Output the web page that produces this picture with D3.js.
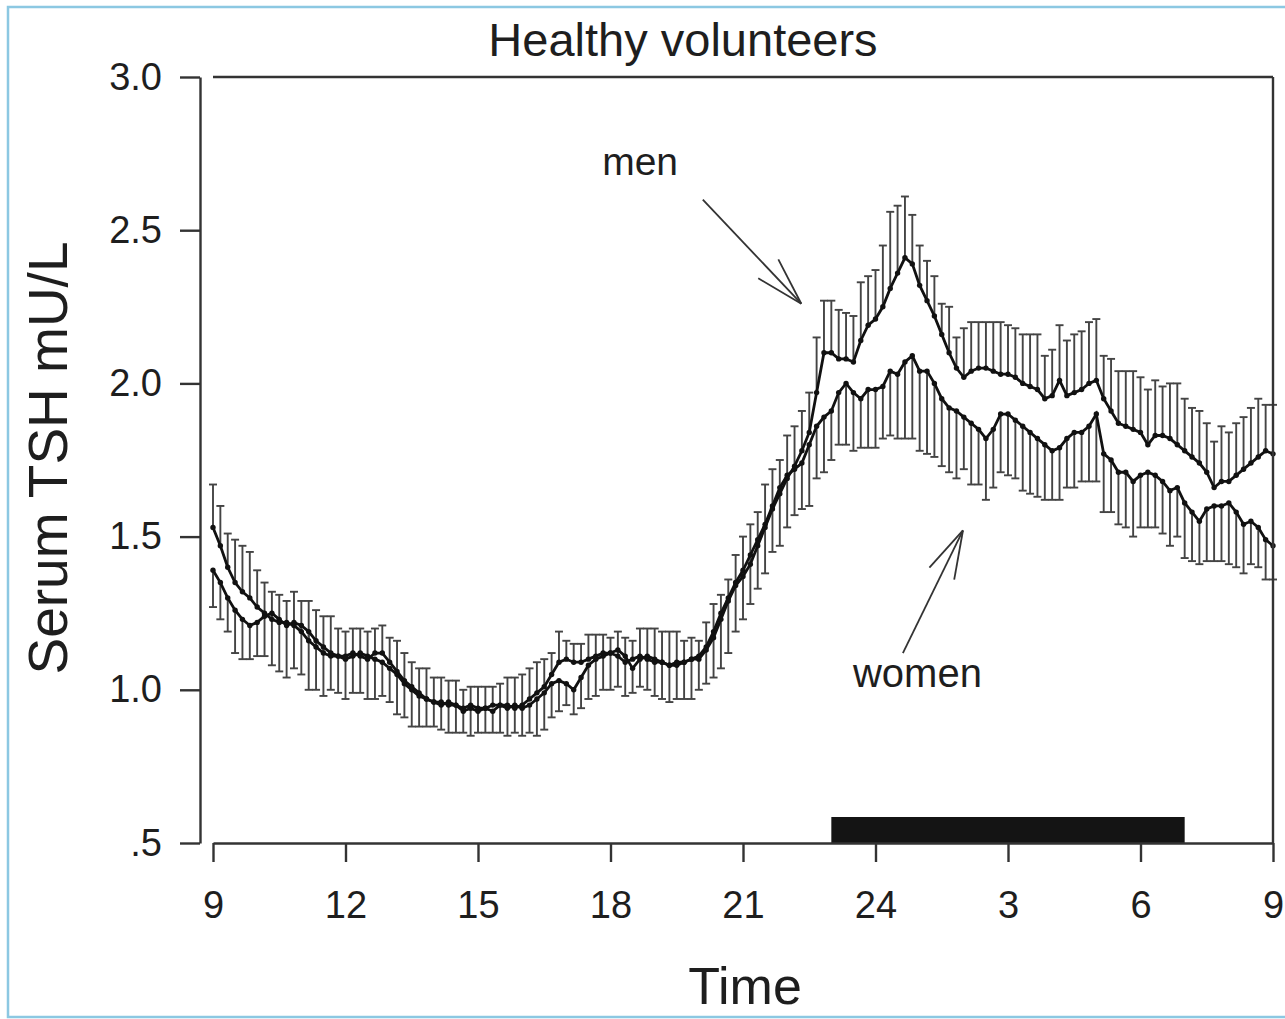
<!DOCTYPE html>
<html>
<head>
<meta charset="utf-8">
<script src="https://cdn.jsdelivr.net/npm/d3@7"></script>
<style>
  html, body { margin: 0; padding: 0; background: #fff; }
  svg { display: block; }
  text { font-family: "Liberation Sans", Arial, sans-serif; fill: #1e1e1e; }
</style>
</head>
<body>
<svg id="chart" width="1285" height="1019"></svg>
<script>
// ---------------- data ----------------
// sampling: every 10 minutes from 09:00 to 09:00 next day (hours since 09:00)
const sampleStepHours = 1 / 6;

const menMean = [
  1.53, 1.47, 1.40, 1.35, 1.32, 1.30,
  1.27, 1.25, 1.23, 1.22, 1.22, 1.21,
  1.19, 1.16, 1.14, 1.12, 1.11, 1.11,
  1.11, 1.12, 1.11, 1.10, 1.12, 1.12,
  1.09, 1.06, 1.03, 1.01, 0.99, 0.97,
  0.96, 0.96, 0.95, 0.95, 0.94, 0.95,
  0.94, 0.94, 0.95, 0.95, 0.95, 0.94,
  0.95, 0.97, 0.99, 1.01, 1.05, 1.09,
  1.10, 1.09, 1.09, 1.10, 1.11, 1.12,
  1.12, 1.11, 1.09, 1.10, 1.11, 1.10,
  1.09, 1.09, 1.08, 1.09, 1.09, 1.10,
  1.10, 1.13, 1.17, 1.23, 1.29, 1.34,
  1.37, 1.41, 1.47, 1.53, 1.59, 1.64,
  1.69, 1.73, 1.78, 1.84, 1.97, 2.10,
  2.10, 2.08, 2.08, 2.07, 2.14, 2.19,
  2.21, 2.25, 2.31, 2.36, 2.41, 2.39,
  2.32, 2.27, 2.22, 2.16, 2.10, 2.05,
  2.02, 2.04, 2.05, 2.05, 2.04, 2.03,
  2.03, 2.02, 2.00, 1.99, 1.98, 1.95,
  1.96, 2.01, 1.96, 1.97, 1.98, 2.00,
  2.01, 1.95, 1.91, 1.87, 1.86, 1.85,
  1.84, 1.80, 1.83, 1.83, 1.82, 1.80,
  1.78, 1.76, 1.74, 1.71, 1.66, 1.68,
  1.68, 1.70, 1.72, 1.74, 1.76, 1.78,
  1.77
];
const menSE = [
  0.14, 0.13, 0.11, 0.14, 0.15, 0.15,
  0.12, 0.10, 0.09, 0.09, 0.07, 0.11,
  0.10, 0.13, 0.12, 0.12, 0.13, 0.09,
  0.08, 0.08, 0.09, 0.09, 0.08, 0.09,
  0.08, 0.10, 0.09, 0.08, 0.08, 0.10,
  0.08, 0.08, 0.08, 0.08, 0.06, 0.06,
  0.07, 0.07, 0.06, 0.07, 0.09, 0.10,
  0.10, 0.10, 0.10, 0.09, 0.07, 0.10,
  0.06, 0.06, 0.06, 0.08, 0.07, 0.06,
  0.05, 0.08, 0.08, 0.06, 0.09, 0.10,
  0.11, 0.10, 0.11, 0.10, 0.07, 0.07,
  0.06, 0.09, 0.11, 0.08, 0.07, 0.10,
  0.13, 0.13, 0.11, 0.14, 0.13, 0.11,
  0.14, 0.13, 0.13, 0.13, 0.18, 0.17,
  0.17, 0.16, 0.15, 0.15, 0.19, 0.16,
  0.16, 0.20, 0.25, 0.22, 0.20, 0.16,
  0.13, 0.13, 0.13, 0.10, 0.15, 0.10,
  0.16, 0.16, 0.15, 0.15, 0.16, 0.17,
  0.16, 0.16, 0.16, 0.17, 0.18, 0.14,
  0.15, 0.18, 0.18, 0.19, 0.19, 0.20,
  0.20, 0.14, 0.17, 0.17, 0.18, 0.19,
  0.18, 0.18, 0.18, 0.16, 0.18, 0.20,
  0.17, 0.16, 0.17, 0.16, 0.15, 0.18,
  0.16, 0.17, 0.17, 0.18, 0.19, 0.15,
  0.16
];
const womenMean = [
  1.39, 1.35, 1.30, 1.26, 1.23, 1.21,
  1.22, 1.24, 1.25, 1.23, 1.21, 1.22,
  1.21, 1.19, 1.16, 1.14, 1.12, 1.11,
  1.10, 1.11, 1.12, 1.11, 1.10, 1.09,
  1.07, 1.05, 1.02, 1.00, 0.98, 0.97,
  0.96, 0.95, 0.96, 0.95, 0.93, 0.94,
  0.93, 0.94, 0.93, 0.95, 0.94, 0.95,
  0.94, 0.95, 0.97, 0.99, 1.02, 1.03,
  1.02, 1.00, 1.04, 1.08, 1.10, 1.11,
  1.12, 1.13, 1.11, 1.07, 1.10, 1.11,
  1.10, 1.09, 1.08, 1.08, 1.09, 1.10,
  1.11, 1.14, 1.19, 1.25, 1.30, 1.35,
  1.39, 1.44, 1.49, 1.54, 1.60, 1.66,
  1.70, 1.72, 1.74, 1.80, 1.86, 1.89,
  1.91, 1.97, 2.00, 1.97, 1.95, 1.98,
  1.98, 1.99, 2.04, 2.03, 2.07, 2.09,
  2.04, 2.04, 2.00, 1.95, 1.92, 1.91,
  1.89, 1.87, 1.85, 1.82, 1.85, 1.90,
  1.90, 1.88, 1.86, 1.84, 1.82, 1.80,
  1.78, 1.79, 1.82, 1.84, 1.84, 1.86,
  1.90, 1.77, 1.75, 1.71, 1.71, 1.68,
  1.70, 1.71, 1.70, 1.68, 1.65, 1.66,
  1.61, 1.58, 1.55, 1.59, 1.60, 1.60,
  1.61, 1.58, 1.54, 1.55, 1.53, 1.49,
  1.47
];
const womenSE = [
  0.12, 0.12, 0.11, 0.14, 0.13, 0.11,
  0.11, 0.13, 0.17, 0.17, 0.17, 0.15,
  0.16, 0.19, 0.16, 0.16, 0.12, 0.12,
  0.13, 0.12, 0.13, 0.14, 0.13, 0.11,
  0.11, 0.13, 0.11, 0.12, 0.10, 0.09,
  0.08, 0.08, 0.10, 0.09, 0.07, 0.09,
  0.07, 0.08, 0.07, 0.09, 0.09, 0.09,
  0.09, 0.09, 0.12, 0.12, 0.11, 0.10,
  0.07, 0.08, 0.10, 0.11, 0.12, 0.11,
  0.12, 0.12, 0.13, 0.08, 0.09, 0.11,
  0.12, 0.12, 0.12, 0.11, 0.12, 0.13,
  0.11, 0.12, 0.15, 0.18, 0.18, 0.16,
  0.16, 0.16, 0.16, 0.16, 0.15, 0.19,
  0.17, 0.15, 0.15, 0.20, 0.17, 0.18,
  0.16, 0.17, 0.20, 0.19, 0.16, 0.19,
  0.19, 0.17, 0.21, 0.21, 0.25, 0.27,
  0.26, 0.27, 0.24, 0.22, 0.21, 0.22,
  0.17, 0.20, 0.18, 0.20, 0.19, 0.19,
  0.20, 0.19, 0.21, 0.20, 0.19, 0.18,
  0.16, 0.17, 0.16, 0.18, 0.16, 0.18,
  0.22, 0.19, 0.17, 0.17, 0.18, 0.18,
  0.17, 0.18, 0.17, 0.17, 0.18, 0.16,
  0.18, 0.16, 0.14, 0.17, 0.18, 0.18,
  0.20, 0.18, 0.16, 0.14, 0.13, 0.13,
  0.11
];

const xTickValues = [0, 3, 6, 9, 12, 15, 18, 21, 24];
const xTickLabels = ["9", "12", "15", "18", "21", "24", "3", "6", "9"];
const yTickValues = [3.0, 2.5, 2.0, 1.5, 1.0, 0.5];
const yTickLabels = ["3.0", "2.5", "2.0", "1.5", "1.0", ".5"];
const sleepPeriod = [14, 22];   // 23:00 – 07:00, in hours since 09:00

const titleText = "Healthy volunteers";
const xLabel = "Time";
const yLabel = "Serum TSH mU/L";

// ---------------- layout ----------------
const svg = d3.select("#chart");
const W = 1285, H = 1019;
const plot = { left: 213, right: 1273, top: 77, bottom: 843, yAxisX: 200 };

const x = d3.scaleLinear().domain([0, 24]).range([plot.left, plot.right]);
const y = d3.scaleLinear().domain([0.5, 3.0]).range([plot.bottom, plot.top]);

svg.append("rect").attr("width", W).attr("height", H).attr("fill", "#fff");
// light blue frame of the image
svg.append("rect")
  .attr("x", 8).attr("y", 7).attr("width", W + 10).attr("height", 1010)
  .attr("fill", "none").attr("stroke", "#8cc8e2").attr("stroke-width", 2.5);

const axisColor = "#333";
const axisWidth = 2.4;

// sleep bar
svg.append("rect")
  .attr("x", x(sleepPeriod[0]))
  .attr("y", plot.bottom - 26)
  .attr("width", x(sleepPeriod[1]) - x(sleepPeriod[0]))
  .attr("height", 26)
  .attr("fill", "#141414");

// build series
const times = menMean.map((_, i) => i * sampleStepHours);
const men = times.map((t, i) => ({ t, m: menMean[i], se: menSE[i] }));
const women = times.map((t, i) => ({ t, m: womenMean[i], se: womenSE[i] }));

const barColor = "#444";
const capHalf = 4;

function errorBars(data, dir, cls) {
  const g = svg.append("g").attr("class", cls)
    .attr("stroke", barColor).attr("stroke-width", 1.9).attr("fill", "none");
  g.selectAll("line.v").data(data).join("line").attr("class", "v")
    .attr("x1", d => x(d.t)).attr("x2", d => x(d.t))
    .attr("y1", d => y(d.m)).attr("y2", d => y(d.m + dir * d.se));
  g.selectAll("line.c").data(data).join("line").attr("class", "c")
    .attr("x1", d => x(d.t) - capHalf).attr("x2", d => x(d.t) + capHalf)
    .attr("y1", d => y(d.m + dir * d.se)).attr("y2", d => y(d.m + dir * d.se));
}
errorBars(women, -1, "women-err");
errorBars(men, +1, "men-err");

const line = d3.line().x(d => x(d.t)).y(d => y(d.m));
function series(data, cls) {
  svg.append("path").datum(data).attr("class", cls)
    .attr("d", line).attr("fill", "none").attr("stroke", "#111").attr("stroke-width", 2.8);
  svg.append("g").attr("class", cls + "-pts").selectAll("circle").data(data).join("circle")
    .attr("cx", d => x(d.t)).attr("cy", d => y(d.m)).attr("r", 2.7).attr("fill", "#111");
}
series(women, "women-line");
series(men, "men-line");

// ---------------- axes ----------------
const fontTick = 38;

const yAxis = d3.axisLeft(y).tickValues(yTickValues)
  .tickFormat((d, i) => yTickLabels[i]).tickSize(20).tickPadding(18).tickSizeOuter(0);
const gy = svg.append("g").attr("transform", `translate(${plot.yAxisX},0)`).call(yAxis);
gy.select(".domain").attr("stroke", axisColor).attr("stroke-width", axisWidth);
gy.selectAll(".tick line").attr("stroke", axisColor).attr("stroke-width", axisWidth);
gy.selectAll(".tick text").attr("font-size", fontTick).attr("fill", "#1e1e1e")
  .attr("font-family", "'Liberation Sans', Arial, sans-serif");

const xAxis = d3.axisBottom(x).tickValues(xTickValues)
  .tickFormat((d, i) => xTickLabels[i]).tickSize(19).tickPadding(29).tickSizeOuter(0);
const gx = svg.append("g").attr("transform", `translate(0,${plot.bottom})`).call(xAxis);
gx.select(".domain").attr("stroke", axisColor).attr("stroke-width", axisWidth);
gx.selectAll(".tick line").attr("stroke", axisColor).attr("stroke-width", axisWidth);
gx.selectAll(".tick text").attr("font-size", fontTick).attr("fill", "#1e1e1e")
  .attr("font-family", "'Liberation Sans', Arial, sans-serif");

// top and right frame lines
svg.append("line").attr("x1", x(0)).attr("x2", x(24)).attr("y1", y(3)).attr("y2", y(3))
  .attr("stroke", axisColor).attr("stroke-width", axisWidth);
svg.append("line").attr("x1", x(24)).attr("x2", x(24)).attr("y1", y(3)).attr("y2", y(0.5))
  .attr("stroke", axisColor).attr("stroke-width", axisWidth);

// ---------------- labels ----------------
svg.append("text").attr("x", 683).attr("y", 56).attr("text-anchor", "middle")
  .attr("font-size", 47).text(titleText);
svg.append("text").attr("x", 745).attr("y", 1004).attr("text-anchor", "middle")
  .attr("font-size", 52).text(xLabel);
svg.append("text").attr("transform", "translate(67,458) rotate(-90)")
  .attr("text-anchor", "middle").attr("font-size", 55).text(yLabel);

// ---------------- annotations (in data units) ----------------
const annotations = [
  { label: "men",   size: 39, text: [9.67, 2.68], tail: [11.09, 2.60], tip: [13.32, 2.26] },
  { label: "women", size: 40, text: [15.95, 1.01], tail: [15.62, 1.12], tip: [16.98, 1.52] }
];
const headLen = 50, headAng = 0.28;
annotations.forEach(a => {
  svg.append("text").attr("x", x(a.text[0])).attr("y", y(a.text[1]))
    .attr("text-anchor", "middle").attr("font-size", a.size).text(a.label);
  const x1 = x(a.tail[0]), y1 = y(a.tail[1]), x2 = x(a.tip[0]), y2 = y(a.tip[1]);
  const g = svg.append("g").attr("stroke", "#333").attr("stroke-width", 1.8).attr("fill", "none");
  g.append("line").attr("x1", x1).attr("y1", y1).attr("x2", x2).attr("y2", y2);
  const ang = Math.atan2(y1 - y2, x1 - x2);
  [-headAng, headAng].forEach(da => {
    g.append("line").attr("x1", x2).attr("y1", y2)
      .attr("x2", x2 + headLen * Math.cos(ang + da))
      .attr("y2", y2 + headLen * Math.sin(ang + da));
  });
});
</script>
</body>
</html>
